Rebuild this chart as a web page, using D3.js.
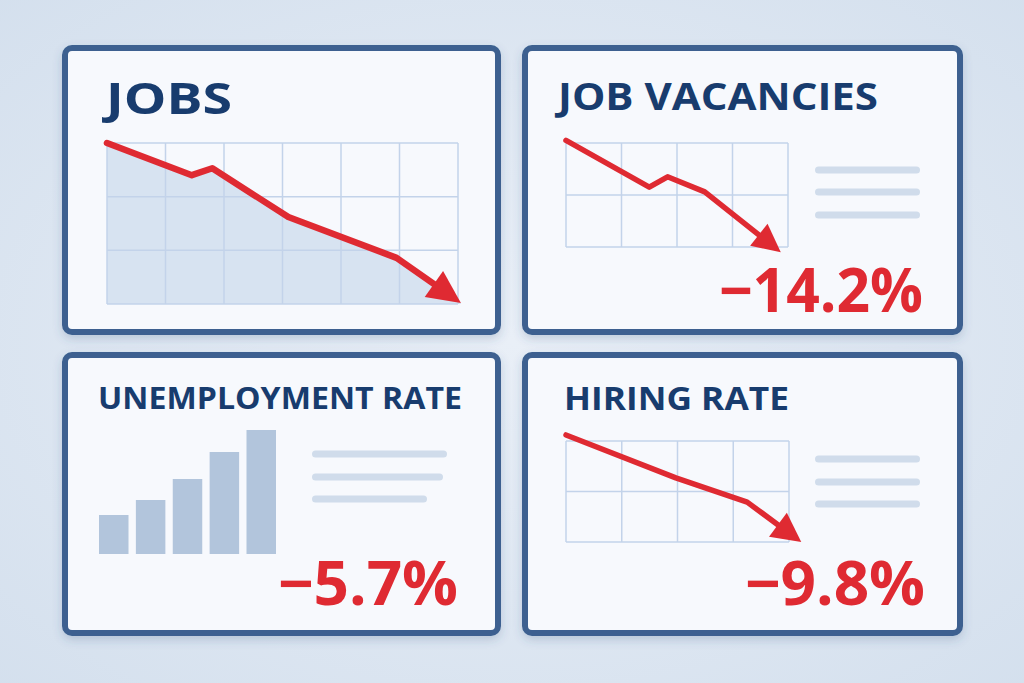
<!DOCTYPE html>
<html>
<head>
<meta charset="utf-8">
<script src="https://cdn.jsdelivr.net/npm/d3@7"></script>
<style>
  html, body { margin: 0; padding: 0; background: #dfe7f1; }
  svg { display: block; }
</style>
</head>
<body>
<svg id="chart" width="1024" height="683"></svg>
<script>
// ---------------- DATA ----------------
const panelTitles = ["JOBS", "JOB VACANCIES", "UNEMPLOYMENT RATE", "HIRING RATE"];
const changeLabels = [null, "\u221214.2%", "\u22125.7%", "\u22129.8%"];

// Jobs (grid units: 6 columns x 3 rows)
const jobsT = [0, 1.45, 1.8, 3.1, 4.95, 6.05];
const jobsV = [3.0, 2.4, 2.53, 1.62, 0.86, 0.02];

// Job vacancies (4 columns x 2 rows)
const vacT = [0, 1.5, 1.83, 2.5, 3.87];
const vacV = [2.05, 1.15, 1.35, 1.06, -0.1];

// Hiring rate (4 columns x 2 rows)
const hireT = [0, 1.97, 3.25, 4.22];
const hireV = [2.12, 1.27, 0.79, 0.0];

// Unemployment rate bars
const unempPeriods = ["P1", "P2", "P3", "P4", "P5"];
const unempValues = [3.9, 5.4, 7.5, 10.2, 12.4];

// ---------------- STYLE ----------------
const NAVY = "#183c6e";
const RED = "#df2a32";
const BORDER = "#3d6190";
const GRID = "#c3d3ea";
const PLACEHOLDER = "#d0dceb";
const BAR = "#b2c5dc";

const svg = d3.select("#chart");
const defs = svg.append("defs");

const bg = defs.append("radialGradient").attr("id", "bg")
  .attr("cx", "50%").attr("cy", "50%").attr("r", "75%");
bg.append("stop").attr("offset", "0%").attr("stop-color", "#e9eff7");
bg.append("stop").attr("offset", "100%").attr("stop-color", "#d3dfed");

const shadow = defs.append("filter").attr("id", "shadow")
  .attr("x", "-10%").attr("y", "-10%").attr("width", "120%").attr("height", "125%");
shadow.append("feDropShadow").attr("dx", 0).attr("dy", 4).attr("stdDeviation", 5)
  .attr("flood-color", "#35557f").attr("flood-opacity", 0.22);

svg.append("rect").attr("width", 1024).attr("height", 683).attr("fill", "url(#bg)");

// panel frames (outer boxes)
const frames = [
  { x: 62, y: 45, w: 439, h: 290 },
  { x: 522, y: 45, w: 441, h: 290 },
  { x: 62, y: 352, w: 439, h: 284 },
  { x: 522, y: 352, w: 441, h: 284 }
];
const BW = 6;
frames.forEach(f => {
  svg.append("rect")
    .attr("x", f.x + BW / 2).attr("y", f.y + BW / 2)
    .attr("width", f.w - BW).attr("height", f.h - BW)
    .attr("rx", 7).attr("ry", 7)
    .attr("fill", "#f7f9fd")
    .attr("stroke", BORDER).attr("stroke-width", BW)
    .attr("filter", "url(#shadow)");
});

// titles
const titleSpecs = [
  { x: 106, y: 114, size: 43, len: 126 },
  { x: 558, y: 110, size: 37, len: 320 },
  { x: 98, y: 409, size: 31, len: 364 },
  { x: 564, y: 410, size: 32, len: 225 }
];
panelTitles.forEach((t, i) => {
  const s = titleSpecs[i];
  svg.append("text")
    .attr("x", s.x).attr("y", s.y)
    .attr("font-family", "'Open Sans', Lato, sans-serif")
    .attr("font-weight", 700)
    .attr("font-size", s.size)
    .attr("fill", NAVY)
    .attr("textLength", s.len).attr("lengthAdjust", "spacingAndGlyphs")
    .text(t);
});

// change labels
const labelSpecs = [null,
  { x: 719, y: 312, len: 204 },
  { x: 278, y: 605, len: 180 },
  { x: 745, y: 605, len: 180 }
];
changeLabels.forEach((t, i) => {
  if (!t) return;
  const s = labelSpecs[i];
  svg.append("text")
    .attr("x", s.x).attr("y", s.y)
    .attr("font-family", "'Open Sans', Roboto, sans-serif")
    .attr("font-weight", 700)
    .attr("font-size", 60)
    .attr("fill", RED)
    .attr("textLength", s.len).attr("lengthAdjust", "spacingAndGlyphs")
    .text(t);
});

// ---------------- line charts ----------------
function lineChart(cfg) {
  const g = svg.append("g");
  const x = d3.scaleLinear().domain([0, cfg.cols]).range(cfg.xr);
  const y = d3.scaleLinear().domain([0, cfg.rows]).range(cfg.yr);
  const pts = cfg.t.map((t, i) => [x(t), y(cfg.v[i])]);

  if (cfg.area) {
    const area = d3.area().x(d => d[0]).y0(cfg.yr[0]).y1(d => d[1]);
    g.append("path").datum(pts).attr("d", area)
      .attr("fill", "#d3e0ef").attr("opacity", 0.9);
  }

  // grid
  g.selectAll(".vg").data(d3.range(0, cfg.cols + 1)).join("line")
    .attr("x1", d => x(d)).attr("x2", d => x(d))
    .attr("y1", cfg.yr[0]).attr("y2", cfg.yr[1])
    .attr("stroke", GRID).attr("stroke-width", 1.5);
  g.selectAll(".hg").data(d3.range(0, cfg.rows + 1)).join("line")
    .attr("x1", cfg.xr[0]).attr("x2", cfg.xr[1])
    .attr("y1", d => y(d)).attr("y2", d => y(d))
    .attr("stroke", GRID).attr("stroke-width", 1.5);

  // arrow geometry
  const tip = pts[pts.length - 1];
  const prev = pts[pts.length - 2];
  const dx = tip[0] - prev[0], dy = tip[1] - prev[1];
  const L = Math.hypot(dx, dy);
  const ux = dx / L, uy = dy / L;
  const base = [tip[0] - ux * cfg.headLen, tip[1] - uy * cfg.headLen];
  const linePts = pts.slice(0, -1).concat([[base[0] + ux * 2, base[1] + uy * 2]]);

  const line = d3.line().x(d => d[0]).y(d => d[1]);
  g.append("path").datum(linePts).attr("d", line)
    .attr("fill", "none").attr("stroke", RED)
    .attr("stroke-width", cfg.sw).attr("stroke-linecap", "round")
    .attr("stroke-linejoin", "round");

  const px = -uy, py = ux;
  const head = [
    tip,
    [base[0] + px * cfg.headHW, base[1] + py * cfg.headHW],
    [base[0] - px * cfg.headHW, base[1] - py * cfg.headHW]
  ];
  g.append("path").attr("d", "M" + head.map(p => p.join(",")).join("L") + "Z")
    .attr("fill", RED);
}

lineChart({ t: jobsT, v: jobsV, cols: 6, rows: 3, xr: [107, 458], yr: [304, 143],
  area: true, sw: 6.5, headLen: 33, headHW: 16 });
lineChart({ t: vacT, v: vacV, cols: 4, rows: 2, xr: [566, 788], yr: [247, 143],
  area: false, sw: 5.5, headLen: 28, headHW: 14 });
lineChart({ t: hireT, v: hireV, cols: 4, rows: 2, xr: [566, 789], yr: [542, 441],
  area: false, sw: 5.5, headLen: 29, headHW: 15 });

// ---------------- bar chart ----------------
const bx = d3.scaleBand().domain(unempPeriods).range([99, 276]).paddingInner(0.2).paddingOuter(0);
const by = d3.scaleLinear().domain([0, 12.5]).range([554, 429]);
svg.append("g").selectAll("rect").data(unempValues).join("rect")
  .attr("x", (d, i) => bx(unempPeriods[i]))
  .attr("y", d => by(d))
  .attr("width", bx.bandwidth())
  .attr("height", d => by(0) - by(d))
  .attr("fill", BAR);

// ---------------- placeholder text lines ----------------
const placeholderSets = [
  { x0: 815, ys: [170, 192, 215], x1: [920, 920, 920] },
  { x0: 312, ys: [454, 477, 499], x1: [447, 443, 427] },
  { x0: 815, ys: [459, 482, 504], x1: [920, 920, 920] }
];
const CAP = 3.5;
placeholderSets.forEach(s => {
  svg.append("g").selectAll("line").data(s.ys).join("line")
    .attr("x1", s.x0 + CAP).attr("x2", (d, i) => s.x1[i] - CAP)
    .attr("y1", d => d).attr("y2", d => d)
    .attr("stroke", PLACEHOLDER).attr("stroke-width", 7)
    .attr("stroke-linecap", "round");
});
</script>
</body>
</html>
